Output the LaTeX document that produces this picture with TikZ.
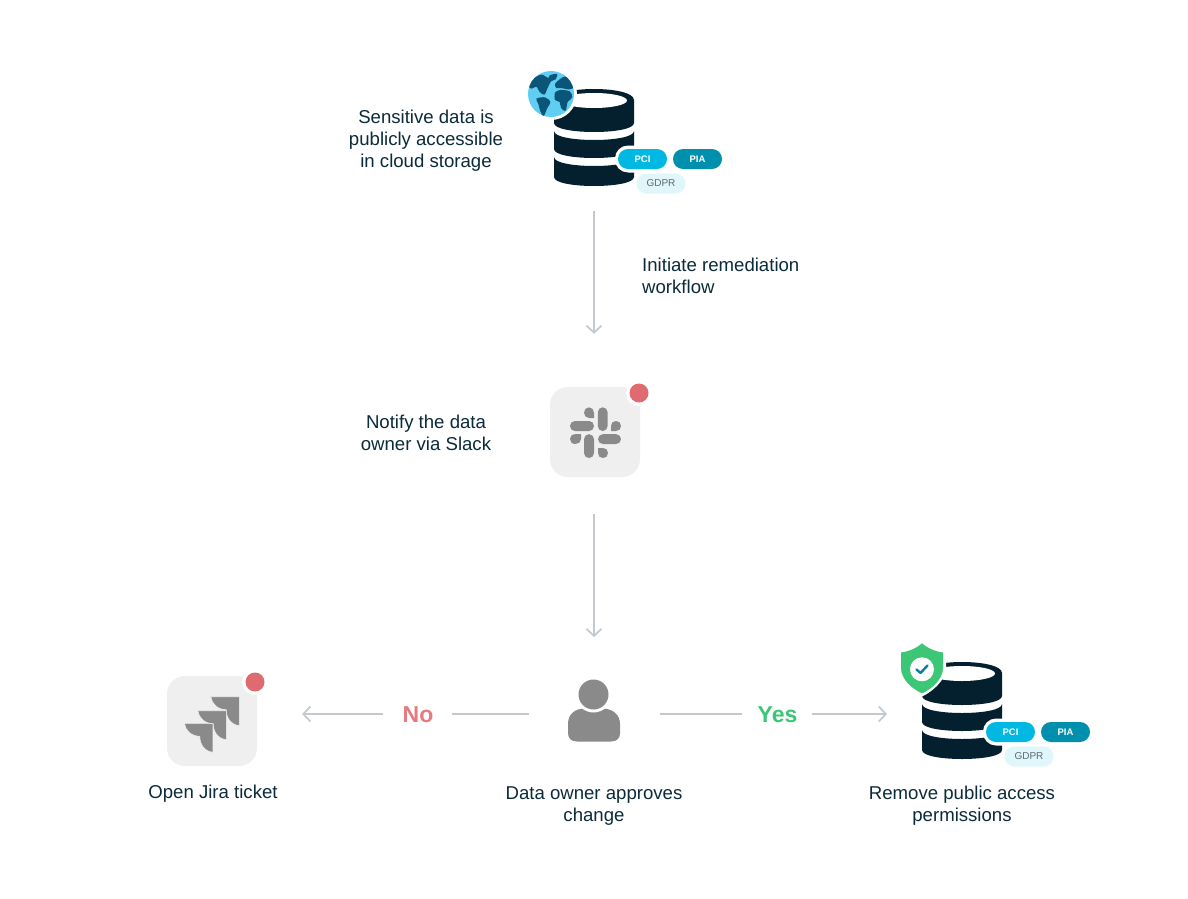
\documentclass[tikz,border=0pt]{standalone}
\usepackage{fontspec}
\setmainfont{Liberation Sans}
\usetikzlibrary{arrows.meta}
\definecolor{ink}{HTML}{04202F}
\definecolor{txt}{HTML}{0B2B3A}
\definecolor{cpci}{HTML}{00B8E2}
\definecolor{cpia}{HTML}{0090AE}
\definecolor{cgdpr}{HTML}{DFF6FB}
\definecolor{cgt}{HTML}{5C6B72}
\definecolor{tile}{HTML}{EFEFEF}
\definecolor{glyph}{HTML}{8A8A8A}
\definecolor{reddot}{HTML}{DF6B70}
\definecolor{redtxt}{HTML}{E67A7E}
\definecolor{grn}{HTML}{3CC776}
\definecolor{conn}{HTML}{C4C9CE}
\definecolor{gsea}{HTML}{5FCEF2}
\definecolor{gland}{HTML}{0B5578}
\definecolor{tick}{HTML}{0B7FA8}
\tikzset{
  label/.style={text=txt,font=\fontsize{18.6}{22}\selectfont,align=center,inner sep=0pt},
  pill/.style={rounded corners=10pt,minimum width=49pt,minimum height=20pt,inner sep=0pt,
     font=\fontsize{9.5}{10}\selectfont\bfseries},
  tilebox/.style={fill=tile,rounded corners=18pt,minimum width=90pt,minimum height=90pt,inner sep=0pt},
  ghost/.style={inner sep=0pt,outer sep=0pt},
  link/.style={draw=conn,line width=1.7pt},
  linkhead/.style={link,-{Straight Barb[length=7pt,width=15pt,line width=1.7pt]}},
  answer/.style={font=\fontsize{23}{26}\selectfont\bfseries,inner sep=0pt},
  dbicon/.pic={
    \fill[ink] (-40,11) .. controls (-40,-3.67) and (40,-3.67) .. (40,11) -- (40,34)
       .. controls (40,46) and (-40,46) .. (-40,34) -- cycle;
    \fill[white] (0,11.5) ellipse [x radius=33, y radius=7.5];
    \fill[ink] (-40,42) .. controls (-40,54) and (40,54) .. (40,42) -- (40,60)
       .. controls (40,72) and (-40,72) .. (-40,60) -- cycle;
    \fill[ink] (-40,68) .. controls (-40,80) and (40,80) .. (40,68) -- (40,88)
       .. controls (40,100) and (-40,100) .. (-40,88) -- cycle;
    \fill[white,rounded corners=13pt] (21,56.5) rectangle (76,83.5);
    \node[pill,fill=cpci,text=white] (pci) at (48.5,70) {PCI};
    \node[pill,fill=cpia,text=white] (pia) at (103.5,70) {PIA};
    \node[pill,fill=cgdpr,text=cgt,font=\fontsize{10}{10}\selectfont] (gdpr) at (67,94.5) {GDPR};
  }
}
\begin{document}
\begin{tikzpicture}[x=1pt,y=-1pt]
\useasboundingbox (0,0) rectangle (1188,899);
\fill[white] (0,0) rectangle (1188,899);

% top database
\pic (a) at (594,89) {dbicon};
\node[ghost,minimum width=80pt,minimum height=97pt] (db1) at (594,137.5) {};
\fill[white] (551,94) circle (26);
\fill[gsea] (551,94) circle (23);
\begin{scope}[shift={(551,94)},x=0.3333pt,y=-0.3333pt]
  \clip (0,0) circle (69);
  \fill[gland] plot[smooth cycle] coordinates {(-66,-24) (-50,-48) (-28,-58) (-8,-48) (-4,-56) (18,-60) (14,-44) (0,-38) (-10,-18) (-20,2) (-34,-6) (-44,-22) (-58,-16)};
  \fill[gland] plot[smooth cycle] coordinates {(-44,14) (-18,10) (-2,24) (-12,44) (-22,66) (-32,52) (-38,30)};
  \fill[gland] plot[smooth cycle] coordinates {(12,-4) (28,-12) (56,-8) (64,10) (50,24) (44,50) (30,42) (26,24) (12,18)};
  \fill[gland] plot[smooth cycle] coordinates {(12,-30) (26,-44) (46,-52) (72,-24) (56,-14) (30,-18) (16,-18)};
\end{scope}

% middle tile
\node[tilebox] (slack) at (595,432) {};
\fill[white] (639,393) circle (13);
\fill[reddot] (639,393) circle (9.5);
\begin{scope}[glyph]
  \fill[rounded corners=4.9pt] (597.8,407.3) rectangle (607.6,431);
  \fill[rounded corners=4.9pt] (570,421) rectangle (594,431);
  \fill[rounded corners=4.9pt] (598,434.2) rectangle (621,444);
  \fill[rounded corners=4.9pt] (584,434.2) rectangle (594,458);
  \fill (594,418) -- (589,418) .. controls (586,418) and (584,415.5) .. (584,412.7) .. controls (584,410) and (586,407.3) .. (589,407.3) .. controls (592,407.3) and (594,410) .. (594,412.7) -- cycle;
  \fill (611,431) -- (611,426) .. controls (611,423) and (613,421) .. (616,421) .. controls (619,421) and (621,423) .. (621,426) .. controls (621,429) and (619,431) .. (616,431) -- cycle;
  \fill (581,434.2) -- (581,439) .. controls (581,442) and (578.5,444) .. (575.5,444) .. controls (572,444) and (570,442) .. (570,439) .. controls (570,436) and (572,434.2) .. (575.5,434.2) -- cycle;
  \fill (598,448) -- (603,448) .. controls (606,448) and (608,450) .. (608,453) .. controls (608,456) and (606,458) .. (603,458) .. controls (600,458) and (598,456) .. (598,453) -- cycle;
\end{scope}

% jira tile
\node[tilebox] (jira) at (212,721) {};
\fill[white] (255,682) circle (13);
\fill[reddot] (255,682) circle (9.5);
\foreach \gx/\gy/\gn in {184.3/723.3/1,197.7/710.7/2,210.7/696.7/3}{
  \fill[glyph,draw=tile,line width=0.6pt,shift={(\gx,\gy)}]
     (0,0) -- (28.6,0) -- (28.6,29) .. controls (20,28) and (15.5,21) .. (15.5,13)
     .. controls (7,13) and (1,7) .. (0,0) -- cycle;
}

% person
\node[ghost,minimum width=52pt,minimum height=68pt] (person) at (594,714) {};
\fill[glyph] (577,741.5) -- (611,741.5) .. controls (617,741.5) and (620,738) .. (620,733)
   -- (620,724) .. controls (620,714) and (612,708.5) .. (602,708.5)
   -- (585,708.5) .. controls (575,708.5) and (568,714) .. (568,724)
   -- (568,733) .. controls (568,738) and (571,741.5) .. (577,741.5) -- cycle;
\fill[white] (593.5,694.5) circle (18);
\fill[glyph] (593.5,694.5) circle (15);

% right database
\pic (b) at (962,662) {dbicon};
\node[ghost,minimum width=80pt,minimum height=97pt] (db2) at (962,710.5) {};
\fill[white] (922,640) -- (932,645) .. controls (936,648) and (941,650) .. (946,651) -- (946,668)
   .. controls (946,680) and (932,692) .. (922,696.5)
   .. controls (912,692) and (898,680) .. (898,668) -- (898,651)
   .. controls (903,650) and (908,648) .. (912,645) -- cycle;
\fill[grn] (922,643.3) .. controls (928,648.5) and (935,651.5) .. (943,652.5) -- (943,668)
   .. controls (943,679) and (932,689) .. (922,693.3)
   .. controls (912,689) and (901,679) .. (901,668) -- (901,652.5)
   .. controls (909,651.5) and (916,648.5) .. (922,643.3) -- cycle;
\fill[white] (922,669.3) circle (12);
\draw[tick,line width=2.4pt,line cap=round,line join=round] (916.5,669.5) -- (920.5,673) -- (927.5,665.5);

% labels
\node[label] (t1) at (426,141) {Sensitive data is\\publicly accessible\\in cloud storage};
\node[label,align=left,anchor=west] (t2) at (642,276) {Initiate remediation\\workflow};
\node[label] (t3) at (426,433) {Notify the data\\owner via Slack};
\node[label] (t4) at (213,794) {Open Jira ticket};
\node[label] (t5) at (594,806) {Data owner approves\\change};
\node[label] (t6) at (962,806) {Remove public access\\permissions};
\node[answer,text=redtxt] (no) at (418,715) {No};
\node[answer,text=grn] (yes) at (777.5,715) {Yes};

% connectors
\draw[linkhead,shorten <=25pt,shorten >=53pt] (db1.south) -- (slack.north -| db1.south);
\draw[linkhead,shorten <=37pt,shorten >=43pt] (slack.south -| db1.south) -- (person.north);
\draw[link,shorten <=39pt,shorten >=18pt] (person.west) -- (no.east |- person.west);
\draw[linkhead,shorten <=19pt,shorten >=45pt] (no.west |- person.west) -- (jira.east |- person.west);
\draw[link,shorten <=40pt,shorten >=15pt] (person.east) -- (yes.west |- person.east);
\draw[linkhead,shorten <=14pt,shorten >=35pt] (yes.east |- person.east) -- (db2.west |- person.east);
\end{tikzpicture}
\end{document}
